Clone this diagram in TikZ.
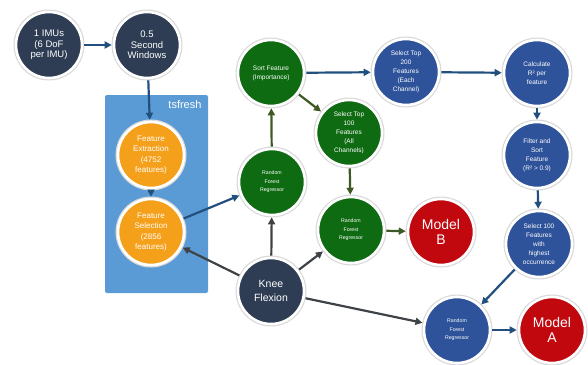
\documentclass[tikz,border=0pt]{standalone}
\usepackage{fontspec}
\setmainfont{Liberation Sans}
\usetikzlibrary{arrows.meta}
\definecolor{navy}{HTML}{2E3D54}
\definecolor{orng}{HTML}{F5A01A}
\definecolor{grn}{HTML}{0E6B12}
\definecolor{blu}{HTML}{2E539A}
\definecolor{rd}{HTML}{C0080E}
\definecolor{boxblue}{HTML}{5B9BD5}
\definecolor{arblue}{HTML}{21507F}
\definecolor{argrn}{HTML}{3E5A24}
\definecolor{argray}{HTML}{3F4347}
\tikzset{
  nd/.style={circle, minimum size=66pt, inner sep=1pt, draw=white, line width=2.6pt,
    preaction={draw=gray!30, line width=5pt}, text=white, align=center},
  navynd/.style={nd, fill=navy},
  orangend/.style={nd, fill=orng},
  greennd/.style={nd, fill=grn},
  bluend/.style={nd, fill=blu},
  rednd/.style={nd, fill=rd},
  arr/.style={line width=2.2pt, -{Triangle[length=7pt,width=7pt]}, shorten >=1pt, shorten <=1pt},
  barr/.style={arr, draw=arblue},
  garr/.style={arr, draw=argrn},
  karr/.style={arr, draw=argray},
  tbig/.style={font=\fontsize{9.5}{10.5}\selectfont},
  tmed/.style={font=\fontsize{8}{10.5}\selectfont},
  tsml/.style={font=\fontsize{6.5}{9}\selectfont},
  ttiny/.style={font=\fontsize{5.2}{8.5}\selectfont},
  tmodel/.style={font=\fontsize{14}{15}\selectfont},
  tknee/.style={font=\fontsize{10.5}{13.5}\selectfont},
}
\begin{document}
\begin{tikzpicture}
\useasboundingbox (0,0) rectangle (588pt,-364pt);
% tsfresh box
\node[fill=boxblue, rounded corners=2pt, minimum width=103pt, minimum height=198pt, inner sep=0pt] (tsbox) at (156.5pt,-194pt) {};
\node[text=white, font=\fontsize{11}{12}\selectfont, anchor=east] (tslabel) at (205pt,-105pt) {tsfresh};

\node[navynd, tbig] (imu) at (49pt,-45pt) {1 IMUs\\(6 DoF\\per IMU)};
\node[navynd, tbig] (win) at (147pt,-45pt) {0.5\\Second\\Windows};
\node[orangend, tmed] (fe) at (151pt,-155pt) {Feature\\Extraction\\(4752\\features)};
\node[orangend, tmed] (fs) at (151pt,-232pt) {Feature\\Selection\\(2856\\features)};
\node[greennd, ttiny] (rfm) at (272pt,-182pt) {Random\\Forest\\Regressor};
\node[greennd, tsml] (sort) at (271pt,-73pt) {Sort Feature\\(Importance)};
\node[greennd, tsml] (top100) at (349pt,-133pt) {Select Top\\100\\Features\\(All\\Channels)};
\node[greennd, ttiny] (rfl) at (351pt,-230pt) {Random\\Forest\\Regressor};
\node[rednd, tmodel] (mb) at (441pt,-232pt) {Model\\B};
\node[bluend, tsml] (top200) at (406pt,-72pt) {Select Top\\200\\Features\\(Each\\Channel)};
\node[bluend, tsml] (calc) at (537pt,-73pt) {Calculate\\R² per\\feature};
\node[bluend, tsml] (filt) at (537pt,-155pt) {Filter and\\Sort\\Feature\\(R² > 0.9)};
\node[bluend, tsml] (sel100) at (539pt,-244pt) {Select 100\\Features\\with\\highest\\occurrence};
\node[bluend, ttiny] (rfb) at (457pt,-330pt) {Random\\Forest\\Regressor};
\node[rednd, tmodel] (ma) at (552pt,-330pt) {Model\\A};
\node[navynd, tknee] (knee) at (271pt,-291pt) {Knee\\Flexion};

\draw[barr] (imu) -- (win);
\draw[barr] (win) -- (fe);
\draw[barr] (fe) -- (fs);
\draw[barr] (fs) -- (rfm);
\draw[garr] (rfm) -- (sort);
\draw[barr] (sort) -- (top200);
\draw[garr] (sort) -- (top100);
\draw[garr] (top100) -- (rfl);
\draw[garr] (rfl) -- (mb);
\draw[barr] (top200) -- (calc);
\draw[barr] (calc) -- (filt);
\draw[barr] (filt) -- (sel100);
\draw[barr] (sel100) -- (rfb);
\draw[barr] (rfb) -- (ma);
\draw[karr] (knee) -- (fs);
\draw[karr] (knee) -- (rfm);
\draw[karr] (knee) -- (rfl);
\draw[karr] (knee) -- (rfb);
\end{tikzpicture}
\end{document}
